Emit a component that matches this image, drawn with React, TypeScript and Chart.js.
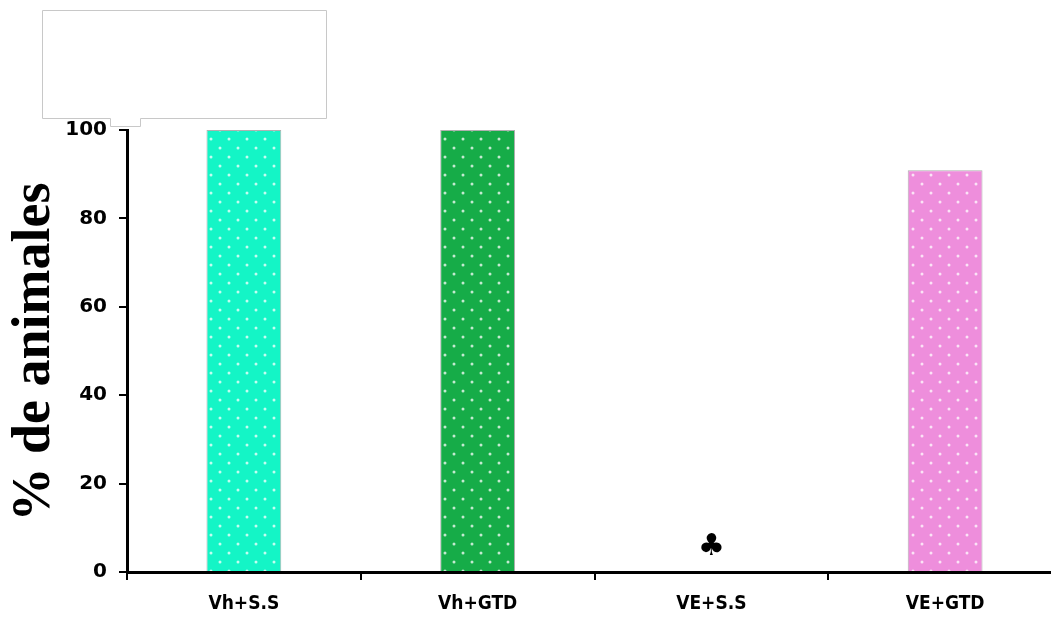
import React, { useEffect, useRef } from "react";
import { Chart, registerables } from "chart.js";

Chart.register(...registerables);

const categories = ["Vh+S.S", "Vh+GTD", "VE+S.S", "VE+GTD"];
const values = [100, 100, 0, 90.9];
const barColors = ["#14F5C6", "#16AC48", "#FFFFFF", "#EE8EDC"];
const yTicks = [0, 20, 40, 60, 80, 100];
const markers = [{ index: 2, value: 5.5, symbol: "♣" }];
const yTitle = "% de animales";

function makePattern(color: string): CanvasPattern | string {
  const c = document.createElement("canvas");
  c.width = 18;
  c.height = 18;
  const g = c.getContext("2d");
  if (!g) return color;
  g.fillStyle = color;
  g.fillRect(0, 0, 18, 18);
  g.fillStyle = "rgba(255,255,255,0.75)";
  [[4, 4], [13, 13]].forEach(([x, y]) => {
    g.beginPath();
    g.arc(x, y, 1.5, 0, Math.PI * 2);
    g.fill();
  });
  const p = g.createPattern(c, "repeat");
  return p || color;
}

const overlayPlugin = {
  id: "overlay",
  beforeDraw(chart: any) {
    const ctx = chart.ctx;
    ctx.save();
    ctx.fillStyle = "#ffffff";
    ctx.strokeStyle = "#c8c8c8";
    ctx.lineWidth = 1;
    ctx.beginPath();
    ctx.moveTo(42.5, 10.5);
    ctx.lineTo(326.5, 10.5);
    ctx.lineTo(326.5, 118.5);
    ctx.lineTo(140.5, 118.5);
    ctx.lineTo(140.5, 126.5);
    ctx.lineTo(110.5, 126.5);
    ctx.lineTo(110.5, 118.5);
    ctx.lineTo(42.5, 118.5);
    ctx.closePath();
    ctx.fill();
    ctx.stroke();
    ctx.restore();
  },
  afterDraw(chart: any) {
    const ctx = chart.ctx;
    const xs = chart.scales.x;
    const ys = chart.scales.y;
    ctx.save();
    ctx.fillStyle = "#000";
    ctx.font = "bold 54px 'Liberation Serif', 'Times New Roman', serif";
    ctx.textAlign = "center";
    ctx.textBaseline = "middle";
    ctx.translate(35, 352);
    ctx.rotate(-Math.PI / 2);
    ctx.fillText(yTitle, 0, 0);
    ctx.restore();
    ctx.save();
    ctx.fillStyle = "#000";
    ctx.font = "30px 'DejaVu Sans', sans-serif";
    ctx.textAlign = "center";
    ctx.textBaseline = "middle";
    markers.forEach((m) => {
      ctx.fillText(m.symbol, xs.getPixelForValue(m.index), ys.getPixelForValue(m.value));
    });
    ctx.restore();
  },
};

export default function App() {
  const ref = useRef<HTMLCanvasElement>(null);
  useEffect(() => {
    if (!ref.current) return;
    const chart = new Chart(ref.current, {
      type: "bar",
      data: {
        labels: categories,
        datasets: [
          {
            data: values,
            backgroundColor: barColors.map((c) => makePattern(c)) as any,
            borderColor: "#b0b0b0",
            borderWidth: 1,
            categoryPercentage: 1,
            barPercentage: 0.32,
          },
        ],
      },
      options: {
        animation: false,
        responsive: false,
        maintainAspectRatio: false,
        layout: { padding: { top: 130, right: 8, left: 0, bottom: 0 } },
        plugins: { legend: { display: false }, tooltip: { enabled: false } },
        scales: {
          x: {
            offset: true,
            grid: {
              offset: true,
              drawOnChartArea: false,
              drawTicks: true,
              tickLength: 8,
              color: "#000",
              lineWidth: 2,
            },
            border: { display: true, color: "#000", width: 3 },
            ticks: {
              color: "#000",
              padding: 13,
              font: { family: "'DejaVu Sans Condensed', 'Liberation Sans Narrow', 'Liberation Sans', sans-serif", size: 19, weight: "bold" },
            },
            afterFit: (s: any) => {
              s.height = 45;
            },
          },
          y: {
            min: 0,
            max: 100,
            afterBuildTicks: (s: any) => {
              s.ticks = yTicks.map((v) => ({ value: v }));
            },
            grid: {
              drawOnChartArea: false,
              drawTicks: true,
              tickLength: 8,
              color: "#000",
              lineWidth: 2,
            },
            border: { display: true, color: "#000", width: 3 },
            ticks: {
              color: "#000",
              padding: 12,
              font: { family: "'DejaVu Sans', 'Liberation Sans', Arial, sans-serif", size: 20, weight: "bold" },
            },
            afterFit: (s: any) => {
              s.width = 127;
            },
          },
        },
      },
      plugins: [overlayPlugin],
    });
    return () => chart.destroy();
  }, []);
  return (
    <div style={{ position: "absolute", left: 0, top: 0, width: 1051, height: 617, overflow: "hidden", background: "#fff" }}>
      <canvas ref={ref} width={1070} height={617} style={{ display: "block", width: 1070, height: 617 }} />
    </div>
  );
}
